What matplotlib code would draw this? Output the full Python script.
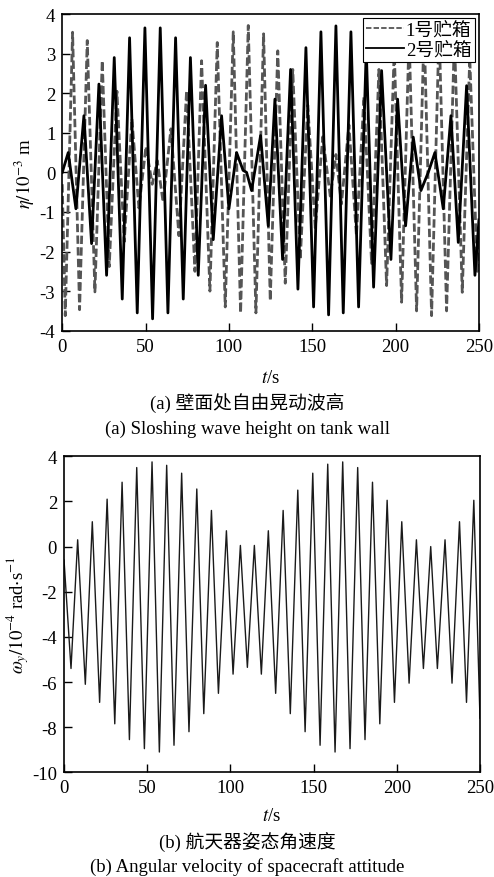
import matplotlib
matplotlib.use("Agg")
import matplotlib.pyplot as plt

plt.rcParams['mathtext.fontset'] = 'stix'
plt.rcParams['axes.unicode_minus'] = False
plt.rcParams['font.family'] = ['Liberation Serif', 'Noto Sans CJK SC']

# (a) wave height, tank 1 (dashed) - extrema
t_tank1 = [0.0, 1.8, 6.2, 10.4, 15.0, 19.6, 24.0, 28.2, 32.8, 37.2, 41.8, 46.0,
           50.2, 54.0, 57.0, 60.5, 65.2, 70.0, 74.6, 79.6, 83.6, 88.6, 93.0,
           97.8, 102.6, 107.0, 111.6, 116.2, 120.8, 124.8, 129.3, 133.8, 138.3,
           142.8, 147.3, 151.8, 156.3, 160.8, 164.2, 167.5, 172.0, 176.5, 181.0,
           185.6, 190.0, 194.6, 199.2, 203.6, 208.1, 212.6, 217.1, 221.6, 226.1,
           230.6, 235.3, 240.0, 244.5, 249.0, 250.0]
eta_tank1 = [-0.3, -3.62, 3.54, -3.47, 3.33, -3.02, 2.82, -2.38, 2.05, -1.75, 1.35, -0.9,
             0.65, -0.3, 0.3, -0.75, 1.1, -1.6, 2.06, -2.5, 2.82, -3.0, 3.28,
             -3.4, 3.55, -3.55, 3.71, -3.55, 3.5, -3.24, 3.07, -2.8, 2.6,
             -2.2, 1.7, -1.4, 0.9, -0.6, 0.45, -0.8, 1.2, -1.6, 1.9,
             -2.3, 2.6, -2.86, 3.1, -3.28, 3.45, -3.5, 3.65, -3.62, 3.65,
             -3.5, 3.4, -3.03, 2.9, -2.5, -1.5]

# (a) wave height, tank 2 (solid)
t_tank2 = [0.0, 3.6, 8.2, 13.0, 17.6, 22.0, 26.6, 31.2, 36.0, 40.4, 45.0, 49.6,
           54.2, 58.8, 63.4, 68.0, 72.6, 76.9, 81.6, 86.0, 90.6, 95.6, 100.0,
           104.6, 108.5, 110.6, 113.6, 119.0, 123.6, 127.6, 132.2, 137.0, 141.4,
           146.2, 150.8, 155.2, 159.8, 164.2, 168.6, 173.2, 177.8, 182.4, 186.8,
           191.6, 197.2, 201.2, 206.0, 210.6, 215.2, 219.6, 223.6, 228.6, 233.2,
           237.6, 242.6, 247.6, 250.0]
eta_tank2 = [0.0, 0.5, -0.92, 1.43, -1.8, 2.23, -2.6, 2.9, -3.2, 3.4, -3.55, 3.65,
             -3.7, 3.65, -3.55, 3.4, -3.2, 2.9, -2.6, 2.2, -1.7, 1.43, -0.92,
             0.5, 0.05, 0.0, -0.46, 0.93, -1.35, 1.85, -2.2, 2.6, -2.95,
             3.15, -3.4, 3.55, -3.6, 3.7, -3.55, 3.55, -3.4, 3.1, -2.9,
             2.57, -2.2, 1.85, -1.35, 0.89, -0.46, 0.0, 0.5, -0.92, 1.43,
             -1.77, 2.19, -2.6, -1.2]

# (b) attitude angular velocity
t_omega = [0.0, 4.2, 8.2, 12.8, 17.0, 21.4, 25.9, 30.5, 34.9, 39.3, 43.7, 48.3,
           52.9, 57.3, 61.7, 66.1, 70.7, 75.1, 79.8, 84.0, 88.6, 92.8, 97.6,
           101.6, 106.0, 110.2, 114.4, 118.6, 122.8, 127.2, 131.7, 136.0, 140.5,
           144.9, 149.5, 153.9, 158.5, 162.9, 167.5, 171.9, 176.5, 180.9, 185.4,
           189.8, 194.2, 198.6, 203.0, 207.4, 211.8, 216.0, 220.4, 224.4, 229.0,
           233.2, 237.7, 241.9, 246.3, 250.0]
omega = [-0.6, -5.4, 0.3, -6.1, 1.1, -6.9, 2.1, -7.85, 2.85, -8.55, 3.5, -8.95,
         3.75, -9.1, 3.6, -8.8, 3.25, -8.2, 2.55, -7.4, 1.6, -6.5, 0.7,
         -5.65, 0.05, -5.35, 0.05, -5.65, 0.7, -6.5, 1.6, -7.4, 2.5,
         -8.2, 3.25, -8.8, 3.65, -9.1, 3.75, -8.95, 3.5, -8.55, 2.85,
         -7.85, 2.05, -6.9, 1.1, -6.05, 0.3, -5.4, 0.0, -5.4, 0.3,
         -6.05, 1.1, -6.9, 2.05, -7.6]

fig = plt.figure(figsize=(4.94, 8.78), dpi=100)
ax1 = fig.add_axes([0.126, 0.6222, 0.8435, 0.3607])
ax2 = fig.add_axes([0.1296, 0.1192, 0.842, 0.36])

fs = 13.5

ax1.plot(t_tank1, eta_tank1, color='#555555', lw=2.0, ls=(0, (3, 1.2)), label='1号贮箱')
ax1.plot(t_tank2, eta_tank2, color='black', lw=2.0, label='2号贮箱')
ax1.set_xlim(0, 250)
ax1.set_ylim(-4, 4)
ax1.set_yticks(range(-4, 5))
ax1.set_xticks(range(0, 251, 50))
ax1.set_xlabel(r'$t$/s', fontsize=fs, labelpad=10)
ax1.set_ylabel(r'$\eta/10^{-3}$ m', fontsize=fs, labelpad=2)
leg = ax1.legend(loc='upper right', fontsize=13.5, frameon=True, fancybox=False,
                 edgecolor='black', framealpha=1, borderpad=0.2, labelspacing=0.1,
                 handlelength=2.0, handletextpad=0.1, borderaxespad=0.2)
leg.get_frame().set_linewidth(0.8)
for h in leg.get_lines():
    h.set_linewidth(1.3)

ax2.plot(t_omega, omega, color='#1a1a1a', lw=1.0)
ax2.set_xlim(0, 250)
ax2.set_ylim(-10, 4)
ax2.set_yticks(range(-10, 5, 2))
ax2.set_xticks(range(0, 251, 50))
ax2.set_xlabel(r'$t$/s', fontsize=fs, labelpad=8)
ax2.set_ylabel(r'$\omega_y/10^{-4}$ rad$\cdot$s$^{-1}$', fontsize=fs, labelpad=1)

for ax in (ax1, ax2):
    ax.tick_params(direction='in', length=6, width=1, labelsize=fs, top=False, right=False, pad=5)
    for s in ax.spines.values():
        s.set_linewidth(1.2)

fig.text(0.5, 1 - 403 / 878, '(a) 壁面处自由晃动波高', ha='center', va='center', fontsize=13.5)
fig.text(0.5, 1 - 429 / 878, '(a) Sloshing wave height on tank wall', ha='center', va='center', fontsize=13.5)
fig.text(0.5, 1 - 843 / 878, '(b) 航天器姿态角速度', ha='center', va='center', fontsize=13.5)
fig.text(0.5, 1 - 867 / 878, '(b) Angular velocity of spacecraft attitude', ha='center', va='center', fontsize=13.5)

fig.savefig('out.png', dpi=100)
